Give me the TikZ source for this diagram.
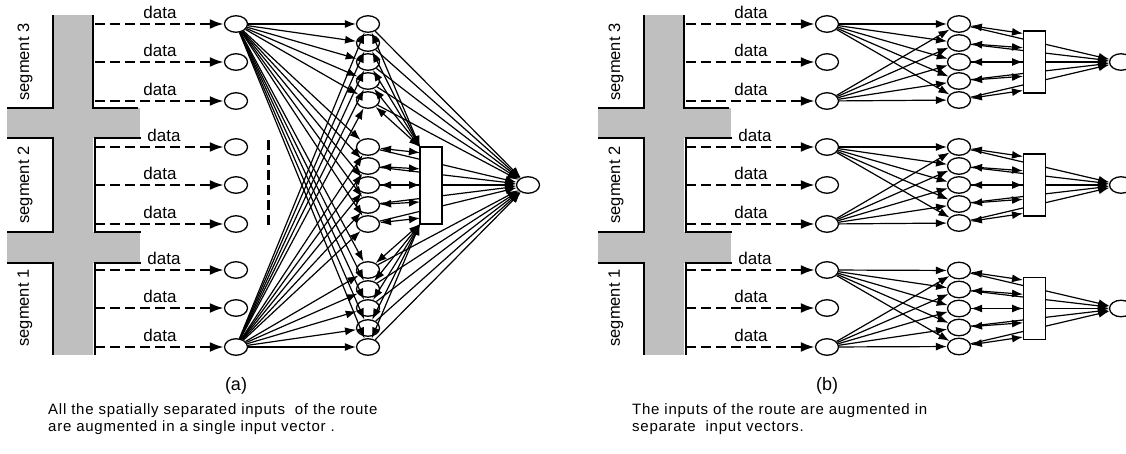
\documentclass[tikz,border=0pt]{standalone}
\usepackage{fontspec}
\setmainfont{Liberation Sans}
\newfontfamily\capfont[LetterSpace=5]{Liberation Sans}
\usetikzlibrary{arrows.meta,shapes.geometric}
\begin{document}
\begin{tikzpicture}[x=1pt,y=-1pt,
  neuron/.style={draw,ellipse,minimum width=23pt,minimum height=16.5pt,inner sep=0pt,line width=1.3pt,fill=white},
  road/.style={fill=black!25,draw=none},
  roadedge/.style={line width=2.2pt},
  feed/.style={line width=2.6pt,dash pattern=on 10pt off 5pt,-{Latex[length=14pt,width=10pt]}},
  net/.style={line width=1.2pt,-{Latex[length=11pt,width=8pt]}},
  netboth/.style={line width=1.2pt,{Latex[length=11pt,width=8pt]}-{Latex[length=11pt,width=8pt]}},
  combiner/.style={draw=none,minimum width=22pt,inner sep=0pt,outer sep=0pt},
  combinerbox/.style={draw,line width=1.3pt,fill=white},
  datalabel/.style={font=\fontsize{17}{20}\selectfont,inner sep=0pt},
  seglabel/.style={font=\fontsize{16.5}{20}\selectfont,rotate=90,inner sep=0pt},
  panellabel/.style={font=\fontsize{18}{21}\selectfont,inner sep=0pt},
  caption/.style={font=\capfont\fontsize{15}{18}\selectfont,inner sep=0pt,anchor=west},
  gap/.style={line width=3pt,dash pattern=on 10pt off 5pt}]
\useasboundingbox (0,0) rectangle (1126,454);

% ---------- roads with their three segments (both panels) ----------
\foreach \dx/\p in {0/a,591/b}{
  \fill[road] (\dx+53,15) rectangle (\dx+93,355);
  \fill[road] (\dx+7,108) rectangle (\dx+140,138);
  \fill[road] (\dx+7,232) rectangle (\dx+140,263);
  \draw[roadedge] (\dx+53,15) -- (\dx+53,108) -- (\dx+7,108);
  \draw[roadedge] (\dx+7,138) -- (\dx+53,138) -- (\dx+53,232) -- (\dx+7,232);
  \draw[roadedge] (\dx+7,263) -- (\dx+53,263) -- (\dx+53,355);
  \draw[roadedge] (\dx+93,15) -- (\dx+93,108) -- (\dx+138,108);
  \draw[roadedge] (\dx+141,138) -- (\dx+95,138) -- (\dx+95,232) -- (\dx+141,232);
  \draw[roadedge] (\dx+141,263) -- (\dx+95,263) -- (\dx+95,355);
  \node[seglabel] (\p-seg-3) at (\dx+25,62) {segment 3};
  \node[seglabel] (\p-seg-2) at (\dx+25,185) {segment 2};
  \node[seglabel] (\p-seg-1) at (\dx+25,308) {segment 1};
  % sensor inputs fed from the road
  \foreach \k/\y/\lx in {1/24/160,2/62/160,3/101/160,4/147/164,5/185/160,6/224/160,7/270/164,8/308/160,9/347/160}{
    \node[neuron] (\p-in-\k) at (\dx+236,\y) {};
    \coordinate (\p-tap-\k) at (\dx+95,\y);
    \draw[feed] (\p-tap-\k) -- (\p-in-\k.west);
    \node[datalabel] (\p-lab-\k) at (\dx+\lx,\y-12) {data};
  }
}

% ---------- (a) one network for the whole route ----------
\foreach \h/\y in {1/24,2/43,3/62,4/81,5/100,6/147,7/166,8/185,9/205,10/224,11/270,12/289,13/308,14/328,15/347}
  \node[neuron] (a-h-\h) at (368,\y) {};
\node[combiner,minimum height=77pt] (a-box) at (431,185.5) {};
\node[neuron] (a-out) at (528,185) {};
\draw[gap] (268,140) -- (268,228);

\foreach \s in {1,9}
  \foreach \h in {1,...,15}
    \draw[net] (a-in-\s) -- (a-h-\h);
\foreach \h in {1,...,15}
  \draw[net] (a-h-\h) -- (a-out);
\foreach \h in {1,...,5}
  \draw[netboth] (a-h-\h) -- (a-box.north west);
\foreach \h in {11,...,15}
  \draw[netboth] (a-h-\h) -- (a-box.south west);
\foreach \h/\y in {6/147,7/166,8/185,9/205,10/224}{
  \coordinate (a-port-\h) at (420,{185+(\y-185)*0.85});
  \draw[netboth] (a-h-\h) -- (a-port-\h);
}
\draw[combinerbox] (a-box.north west) rectangle (a-box.south east);

% ---------- (b) one network per segment ----------
\foreach \g/\cy in {3/62,2/185,1/308.5}{
  \node[combiner,minimum height=62pt] (b-box-\g) at (1034.5,\cy) {};
  \node[neuron] (b-out-\g) at (1121,\cy) {};
  \foreach \k/\dy in {1/-38,2/-19,3/0,4/19,5/38}{
    \node[neuron] (b-h-\g-\k) at (959,\cy+\dy) {};
    \coordinate (b-port-\g-\k) at (1023,{\cy+\dy*0.75});
  }
}
\foreach \g/\i/\j in {3/1/3,2/4/6,1/7/9}{
  \foreach \k in {1,...,5}{
    \draw[net] (b-in-\i) -- (b-h-\g-\k);
    \draw[net] (b-in-\j) -- (b-h-\g-\k);
    \draw[net] (b-h-\g-\k) -- (b-out-\g);
    \draw[netboth] (b-h-\g-\k) -- (b-port-\g-\k);
  }
  \draw[combinerbox] (b-box-\g.north west) rectangle (b-box-\g.south east);
}

% ---------- captions ----------
\node[panellabel] (cap-a) at (236,386) {(a)};
\node[panellabel] (cap-b) at (827,386) {(b)};
\node[caption] (txt-a1) at (48,411) {All the spatially separated inputs\ \ of the route};
\node[caption] (txt-a2) at (48,428) {are augmented in a single input vector .};
\node[caption] (txt-b1) at (632,411) {The inputs of the route are augmented in};
\node[caption] (txt-b2) at (632,428) {separate\ \ input vectors.};
\end{tikzpicture}
\end{document}
